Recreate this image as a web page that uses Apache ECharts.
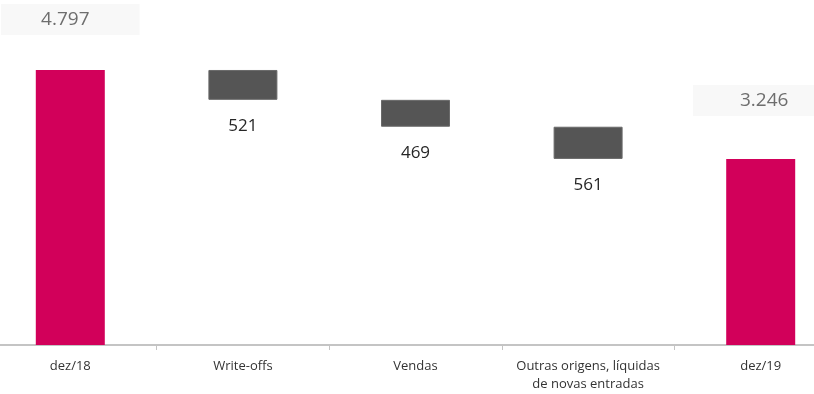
<!DOCTYPE html>
<html>
<head>
<meta charset="utf-8">
<script src="https://cdn.jsdelivr.net/npm/echarts@6/dist/echarts.min.js"></script>
<style>
  html, body { margin: 0; padding: 0; background: #fff; overflow: hidden; }
  #wrap { width: 814px; height: 394px; overflow: hidden; position: relative; }
  #chart { width: 863px; height: 394px; position: absolute; left: -16px; top: 0; }
</style>
</head>
<body>
<div id="wrap"><div id="chart"></div></div>
<script>
  // categorias e valores (carteira, milhares)
  var categories = ['dez/18', 'Write-offs', 'Vendas', 'Outras origens, líquidas\nde novas entradas', 'dez/19'];
  var values = [4797, 521, 469, 561, 3246];
  var isTotal = [true, false, false, false, true];

  var fmt = function (v) {
    return String(v).replace(/\B(?=(\d{3})+(?!\d))/g, '.');
  };

  // base invisivel do waterfall
  var base = [];
  var running = 0;
  values.forEach(function (v, i) {
    if (isTotal[i]) {
      base.push(0);
      running = v;
    } else {
      running -= v;
      base.push(running);
    }
  });

  var totalLabel = {
    0: { distance: 35, padding: [6, 50, 6, 40] },
    4: { distance: 43, padding: [6, 40, 6, 47] }
  };

  var shown = values.map(function (v, i) {
    if (isTotal[i]) {
      return {
        value: v,
        itemStyle: { color: '#d2005a' },
        label: {
          show: true,
          position: 'top',
          distance: totalLabel[i].distance,
          formatter: fmt(v),
          color: '#6e6e6e',
          fontSize: 19,
          fontFamily: 'Open Sans',
          backgroundColor: '#f8f8f8',
          padding: totalLabel[i].padding
        }
      };
    }
    return {
      value: v,
      itemStyle: { color: '#555555', borderColor: '#6a6a6a', borderWidth: 1 },
      label: {
        show: true,
        position: 'bottom',
        distance: 18,
        formatter: fmt(v),
        color: '#262626',
        fontSize: 17,
        fontFamily: 'Open Sans'
      }
    };
  });

  var chart = echarts.init(document.getElementById('chart'));
  chart.setOption({
    animation: false,
    grid: { left: 0, right: 0, top: 1, bottom: 49 },
    xAxis: {
      type: 'category',
      data: categories,
      axisLine: { lineStyle: { color: '#c4c4c4', width: 2 } },
      axisTick: { show: true, length: 5, lineStyle: { color: '#c4c4c4' } },
      axisLabel: {
        color: '#333',
        fontSize: 13,
        fontFamily: 'Open Sans',
        margin: 12,
        lineHeight: 18,
        interval: 0
      }
    },
    yAxis: {
      type: 'value',
      min: 0,
      max: 6000,
      show: false,
      splitLine: { show: false }
    },
    series: [{
      type: 'bar',
      stack: 'w',
      data: base,
      barWidth: 69,
      itemStyle: { color: 'transparent' },
      silent: true
    }, {
      type: 'bar',
      stack: 'w',
      data: shown,
      barWidth: 69
    }]
  });
</script>
</body>
</html>
